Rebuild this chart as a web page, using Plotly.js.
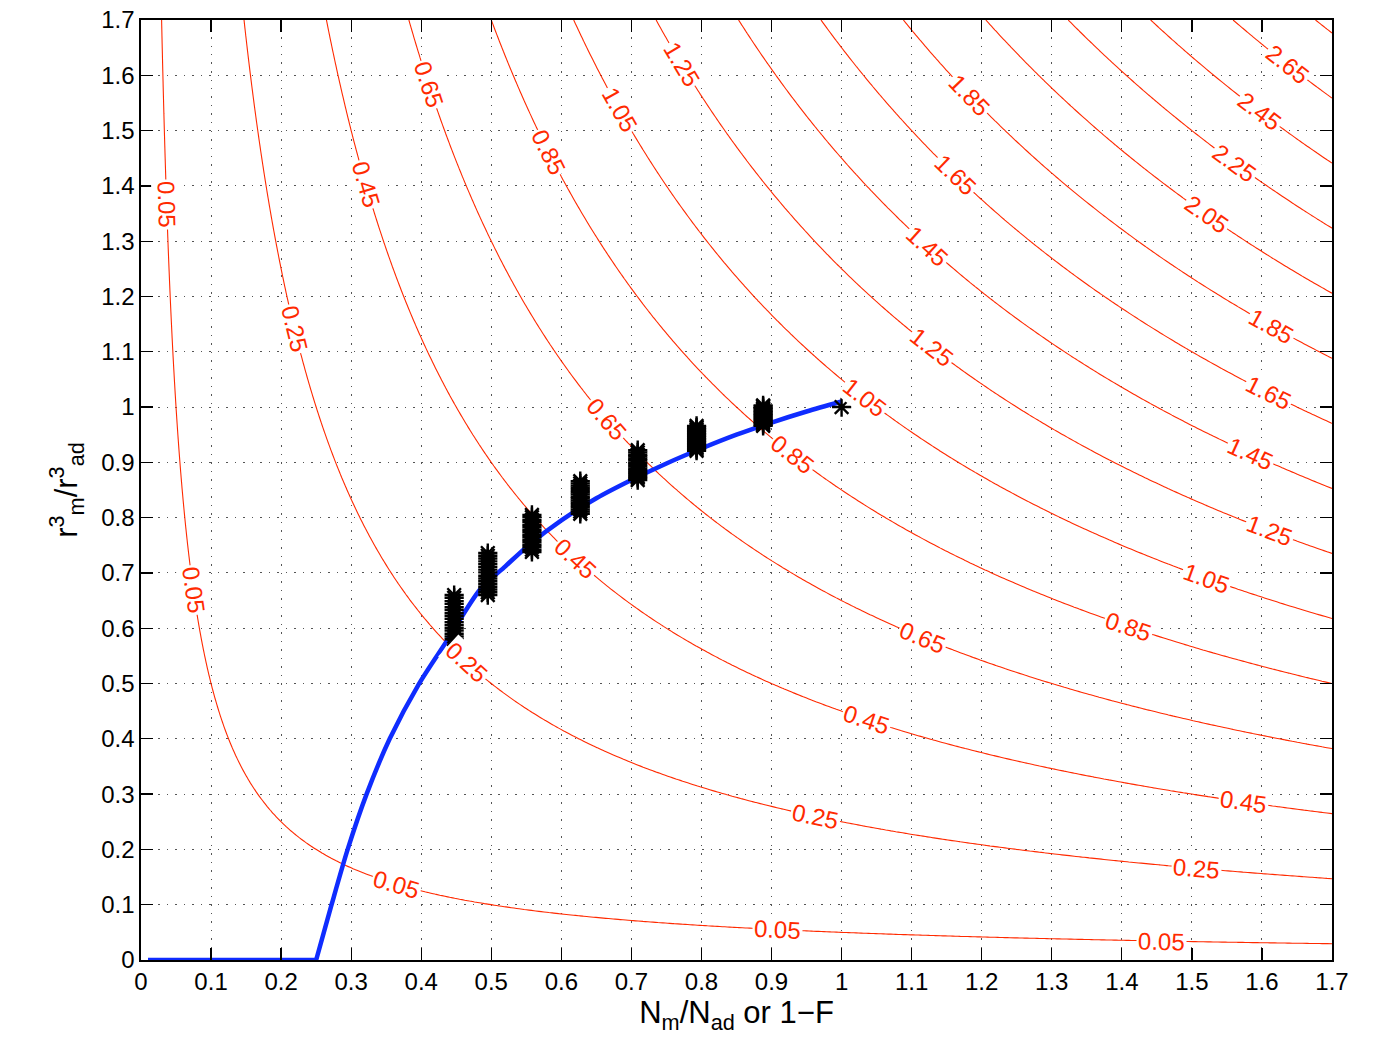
<!DOCTYPE html>
<html>
<head>
<meta charset="utf-8">
<script src="https://cdn.plot.ly/plotly-3.0.1.min.js"></script>
<style>html,body{margin:0;padding:0;background:#fff;}#chart{width:1378px;height:1041px;}</style>
</head>
<body>
<div id="chart"></div>
<script>
// ---- data ----
// contour field: levels of (N_m/N_ad) * (r_m^3/r_ad^3)
const contourStart = 0.05;
const contourEnd = 2.85;
const contourStep = 0.2;
const axisMax = 1.7;

// inline contour labels: level and the x position where the label sits
const labelLevels = [0.05, 0.05, 0.05, 0.05, 0.05,
                     0.25, 0.25, 0.25, 0.25,
                     0.45, 0.45, 0.45, 0.45,
                     0.65, 0.65, 0.65,
                     0.85, 0.85, 0.85,
                     1.05, 1.05, 1.05,
                     1.25, 1.25, 1.25,
                     1.45, 1.45,
                     1.65, 1.65,
                     1.85, 1.85,
                     2.05, 2.25, 2.45, 2.65];
const labelX = [0.0366, 0.0747, 0.365, 0.909, 1.457,
                0.219, 0.465, 0.963, 1.506,
                0.321, 0.62, 1.035, 1.573,
                0.4107, 0.665, 1.115,
                0.582, 0.93, 1.409,
                0.683, 1.033, 1.5215,
                0.772, 1.129, 1.611,
                1.123, 1.583,
                1.162, 1.609,
                1.183, 1.614,
                1.5215, 1.5615, 1.597, 1.637];

// blue model curve: flat part and rising part
const flatX = [0.01, 0.25];
const flatY = [0, 0];
const curveX = [0.25, 0.272, 0.295, 0.322, 0.355, 0.397, 0.437, 0.484, 0.52, 0.555, 0.6, 0.65, 0.7, 0.75, 0.8, 0.85, 0.9, 0.95, 1.0];
const curveY = [0, 0.1, 0.2, 0.3, 0.4, 0.5, 0.578, 0.67, 0.712, 0.752, 0.795, 0.835, 0.868, 0.898, 0.925, 0.95, 0.972, 0.992, 1.01];

// black asterisk stacks (x position, y values)
const stackX = [0.447, 0.495, 0.558, 0.627, 0.709, 0.793, 0.888, 1.0];
const stackY = [
  [0.58, 0.585, 0.59, 0.596, 0.601, 0.606, 0.611, 0.617, 0.622, 0.627, 0.633, 0.638, 0.644, 0.649, 0.655, 0.66],
  [0.66, 0.665, 0.67, 0.675, 0.68, 0.685, 0.69, 0.695, 0.701, 0.706, 0.711, 0.716, 0.721, 0.726, 0.731, 0.736],
  [0.738, 0.742, 0.747, 0.751, 0.756, 0.76, 0.765, 0.769, 0.774, 0.778, 0.783, 0.787, 0.792, 0.796, 0.801, 0.805],
  [0.807, 0.811, 0.815, 0.819, 0.823, 0.827, 0.831, 0.835, 0.838, 0.842, 0.846, 0.85, 0.854, 0.858, 0.862, 0.866],
  [0.868, 0.872, 0.875, 0.879, 0.882, 0.886, 0.889, 0.893, 0.897, 0.9, 0.904, 0.907, 0.911, 0.914, 0.918, 0.922],
  [0.921, 0.924, 0.927, 0.93, 0.933, 0.936, 0.939, 0.942, 0.945, 0.948, 0.951, 0.954, 0.957, 0.96, 0.963, 0.966],
  [0.966, 0.968, 0.971, 0.973, 0.976, 0.978, 0.981, 0.983, 0.986, 0.988, 0.991, 0.993, 0.996, 0.998, 1.001, 1.003],
  [1.0]
];

// ---- layout constants ----
const W = 1378, H = 1041;
const M = {l: 141, r: 46, t: 20, b: 81};
const RED = '#ff2a00';
const FONT = 'Liberation Sans, Arial, Helvetica, sans-serif';

// ---- contour field ----
const N = 241;
const gx = [], gy = [];
for (let i = 0; i < N; i++) { gx.push(0.002 + (axisMax - 0.002) * i / (N - 1)); gy.push(0.002 + (axisMax - 0.002) * i / (N - 1)); }
const gz = gy.map(yv => gx.map(xv => xv * yv));

const contour = {
  type: 'contour', x: gx, y: gy, z: gz,
  autocontour: false,
  contours: {start: contourStart, end: contourEnd, size: contourStep, coloring: 'none', showlabels: false},
  line: {color: RED, width: 1.1, smoothing: 1},
  showscale: false, hoverinfo: 'skip'
};

const flat = {
  type: 'scatter', mode: 'lines', x: flatX, y: flatY,
  line: {color: '#0f2cff', width: 4.5}, hoverinfo: 'skip'
};
const curve = {
  type: 'scatter', mode: 'lines', x: curveX, y: curveY,
  line: {color: '#0f2cff', width: 4.5, shape: 'spline', smoothing: 0.8}, hoverinfo: 'skip'
};

const sx = [], sy = [];
stackX.forEach((xv, i) => stackY[i].forEach(yv => { sx.push(xv); sy.push(yv); }));
const stars = {
  type: 'scatter', mode: 'markers', x: sx, y: sy,
  marker: {symbol: 'asterisk-open', size: 16, line: {color: '#000', width: 2.4}, color: '#000'},
  hoverinfo: 'skip'
};

// contour label annotations, rotated along the lines
const pxPerX = (W - M.l - M.r) / axisMax;
const pxPerY = (H - M.t - M.b) / axisMax;
const annotations = labelLevels.map((lv, i) => {
  const xv = labelX[i];
  const yv = lv / xv;              // point on the same contour level
  const ang = Math.atan((yv / xv) * pxPerY / pxPerX) * 180 / Math.PI;
  return {
    x: xv, y: yv, xref: 'x', yref: 'y', showarrow: false,
    text: lv.toFixed(2), textangle: ang,
    font: {family: FONT, size: 24, color: RED},
    bgcolor: '#ffffff', borderpad: 1
  };
});

const axisCommon = {
  range: [0, axisMax], dtick: 0.1, tick0: 0,
  showgrid: true, gridcolor: '#555', griddash: '1.5px,7px', gridwidth: 1,
  zeroline: false, showline: true, linecolor: '#000', linewidth: 1.6,
  mirror: 'ticks', ticks: 'inside', ticklen: 12, tickcolor: '#000', tickwidth: 1.3,
  tickfont: {family: FONT, size: 24, color: '#000'}
};

const layout = {
  width: W, height: H,
  margin: M,
  paper_bgcolor: '#fff', plot_bgcolor: '#fff',
  showlegend: false,
  font: {family: FONT},
  annotations: annotations,
  xaxis: Object.assign({}, axisCommon, {
    title: {text: 'N<sub>m</sub>/N<sub>ad</sub> or 1\u2212F', font: {family: FONT, size: 31, color: '#000'}, standoff: 2}
  }),
  yaxis: Object.assign({}, axisCommon, {
    title: {text: 'r<sup>3</sup><sub>m</sub>/r<sup>3</sup><sub>ad</sub>', font: {family: FONT, size: 31, color: '#000'}, standoff: 14}
  })
};

Plotly.newPlot('chart', [contour, flat, curve, stars], layout, {staticPlot: true, displayModeBar: false});
</script>
</body>
</html>
